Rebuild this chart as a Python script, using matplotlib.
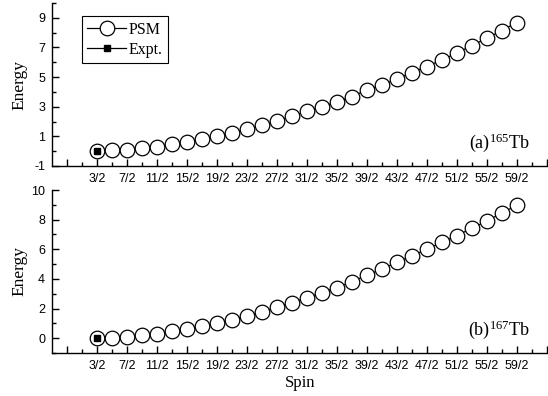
import numpy as np
import matplotlib
matplotlib.use('Agg')
import matplotlib.pyplot as plt
from matplotlib.ticker import FixedLocator

plt.rcParams['font.family'] = 'Liberation Sans'
plt.rcParams['axes.unicode_minus'] = False
plt.rcParams['mathtext.fontset'] = 'custom'
plt.rcParams['mathtext.rm'] = 'Liberation Serif'
plt.rcParams['mathtext.it'] = 'Liberation Serif:italic'

# spin values 3/2 ... 59/2
spin_num = np.arange(3, 60, 2)
spin = spin_num / 2.0
tick_labels = ['%d/2' % n for n in range(3, 60, 4)]

psm_165 = [0.0, 0.07, 0.11, 0.22, 0.31, 0.47, 0.60, 0.80, 1.00, 1.25,
           1.47, 1.75, 2.02, 2.35, 2.69, 3.00, 3.31, 3.69, 4.12, 4.47,
           4.85, 5.30, 5.71, 6.15, 6.62, 7.12, 7.61, 8.14, 8.67]
psm_167 = [0.0, 0.02, 0.09, 0.22, 0.31, 0.47, 0.63, 0.81, 1.01, 1.26,
           1.50, 1.77, 2.09, 2.40, 2.71, 3.07, 3.41, 3.80, 4.25, 4.65,
           5.12, 5.54, 5.99, 6.46, 6.92, 7.41, 7.90, 8.44, 8.96]
expt_spin = [1.5]
expt_165 = [0.0]
expt_167 = [0.0]

fig = plt.figure(figsize=(5.48, 3.96), dpi=100)
ax1 = fig.add_axes([52/548, 1-166/396, 1-52/548, 163/396])
ax2 = fig.add_axes([52/548, 1-353/396, 1-52/548, 163/396])

def style_axis(ax, major_y, minor_y, label):
    ax.set_xlim(-1.5, 31.6)
    ax.set_ylim(-1, 10)
    for s in ['top', 'right']:
        ax.spines[s].set_visible(False)
    for s in ['left', 'bottom']:
        ax.spines[s].set_linewidth(1.0)
    major_x = np.arange(-0.5, 32, 2)
    minor_x = np.arange(0.5, 32, 2)
    ax.xaxis.set_major_locator(FixedLocator(major_x))
    ax.xaxis.set_minor_locator(FixedLocator(minor_x))
    labs = [''] + tick_labels + ['']
    ax.set_xticklabels(labs[:len(major_x)])
    ax.yaxis.set_major_locator(FixedLocator(major_y))
    ax.yaxis.set_minor_locator(FixedLocator(minor_y))
    ax.tick_params(which='major', direction='in', length=5, width=1,
                   labelsize=9, pad=5)
    ax.tick_params(which='minor', direction='in', length=3, width=1)
    ax.set_ylabel('Energy', fontfamily='Liberation Serif', fontsize=12.5)
    ax.yaxis.set_label_coords(-0.05, 0.5)
    ax.text(0.964, 0.11, label, transform=ax.transAxes, ha='right',
            va='baseline', fontfamily='Liberation Serif', fontsize=13)

ax1.plot(spin, psm_165, '-o', color='black', mfc='white', ms=10.5,
         mew=0.9, lw=0.9, label='PSM', clip_on=False)
ax1.plot(expt_spin, expt_165, '-s', color='black', ms=5, lw=0.9,
         label='Expt.', clip_on=False)
ax2.plot(spin, psm_167, '-o', color='black', mfc='white', ms=10.5,
         mew=0.9, lw=0.9, clip_on=False)
ax2.plot(expt_spin, expt_167, '-s', color='black', ms=5, lw=0.9,
         clip_on=False)

style_axis(ax1, [-1, 1, 3, 5, 7, 9], [0, 2, 4, 6, 8, 10],
           r'(a)$^{\mathrm{165}}$Tb')
style_axis(ax2, [0, 2, 4, 6, 8, 10], [-1, 1, 3, 5, 7, 9],
           r'(b)$^{\mathrm{167}}$Tb')

leg = ax1.legend(loc='upper left', bbox_to_anchor=(0.06, 0.92),
                 prop={'family': 'Liberation Serif', 'size': 11.5},
                 fancybox=False, edgecolor='black', framealpha=1,
                 handlelength=2.4, handletextpad=0.2, borderpad=0.35,
                 labelspacing=0.25, borderaxespad=0)
leg.get_frame().set_linewidth(0.8)

ax2.set_xlabel('Spin', fontfamily='Liberation Serif', fontsize=12,
               labelpad=2)

plt.savefig('out.png')
